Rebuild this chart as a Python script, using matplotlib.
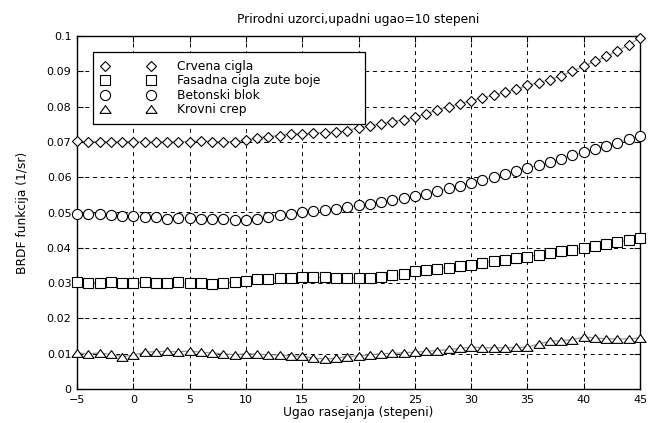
import numpy as np
import matplotlib
matplotlib.use("Agg")
import matplotlib.pyplot as plt

# scattering angle, degrees
ugao = list(range(-5, 46))

crvena_cigla = [
    0.0702, 0.0700, 0.0701, 0.0700, 0.0700, 0.0701, 0.0699, 0.0700, 0.0700, 0.0699,
    0.0701, 0.0702, 0.0701, 0.0700, 0.0701, 0.0704, 0.0712, 0.0715, 0.0718, 0.0722,
    0.0723, 0.0724, 0.0726, 0.0728, 0.0732, 0.0740, 0.0745, 0.0752, 0.0757, 0.0763,
    0.0770, 0.0780, 0.0790, 0.0800, 0.0808, 0.0817, 0.0825, 0.0832, 0.0840, 0.0850,
    0.0860, 0.0868, 0.0876, 0.0888, 0.0900, 0.0915, 0.0928, 0.0942, 0.0958, 0.0975,
    0.0995,
]
fasadna_cigla = [
    0.0302, 0.0300, 0.0301, 0.0302, 0.0300, 0.0301, 0.0302, 0.0301, 0.0300, 0.0302,
    0.0299, 0.0301, 0.0297, 0.0300, 0.0303, 0.0307, 0.0311, 0.0313, 0.0314, 0.0315,
    0.0316, 0.0316, 0.0316, 0.0315, 0.0315, 0.0314, 0.0314, 0.0317, 0.0322, 0.0326,
    0.0333, 0.0337, 0.0341, 0.0344, 0.0349, 0.0352, 0.0357, 0.0362, 0.0365, 0.0370,
    0.0375, 0.0380, 0.0385, 0.0390, 0.0395, 0.0400, 0.0405, 0.0410, 0.0416, 0.0421,
    0.0428,
]
betonski_blok = [
    0.0497, 0.0496, 0.0497, 0.0494, 0.0491, 0.0490, 0.0488, 0.0486, 0.0482, 0.0484,
    0.0485, 0.0483, 0.0482, 0.0481, 0.0480, 0.0480, 0.0483, 0.0488, 0.0493, 0.0497,
    0.0500, 0.0503, 0.0507, 0.0511, 0.0515, 0.0520, 0.0524, 0.0530, 0.0535, 0.0540,
    0.0546, 0.0553, 0.0560, 0.0568, 0.0576, 0.0584, 0.0592, 0.0600, 0.0608, 0.0617,
    0.0626, 0.0634, 0.0642, 0.0652, 0.0662, 0.0671, 0.0680, 0.0689, 0.0698, 0.0707,
    0.0716,
]
krovni_crep = [
    0.0102, 0.0100, 0.0102, 0.0098, 0.0092, 0.0096, 0.0104, 0.0106, 0.0107, 0.0105,
    0.0108, 0.0104, 0.0102, 0.0100, 0.0097, 0.0100, 0.0099, 0.0097, 0.0096, 0.0094,
    0.0093, 0.0087, 0.0085, 0.0087, 0.0092, 0.0094, 0.0097, 0.0100, 0.0101, 0.0103,
    0.0104, 0.0107, 0.0109, 0.0112, 0.0115, 0.0119, 0.0117, 0.0117, 0.0117, 0.0118,
    0.0118, 0.0128, 0.0135, 0.0137, 0.0140, 0.0147, 0.0145, 0.0142, 0.0142, 0.0142,
    0.0145,
]

nazivi = ["Crvena cigla", "Fasadna cigla zute boje", "Betonski blok", "Krovni crep"]
# slightly flattened triangle like the original print
trougao = [(-1, -0.7), (1, -0.7), (0, 0.7), (-1, -0.7)]
markeri = ["D", "s", "o", trougao]
velicine = [5.5, 7, 7.3, 8]

x_ticks = [-5, 0, 5, 10, 15, 20, 25, 30, 35, 40, 45]
y_ticks = [0, 0.01, 0.02, 0.03, 0.04, 0.05, 0.06, 0.07, 0.08, 0.09, 0.1]
y_tick_labels = ["0", "0.01", "0.02", "0.03", "0.04", "0.05", "0.06",
                 "0.07", "0.08", "0.09", "0.1"]

plt.rcParams["font.family"] = ["DejaVu Sans"]

fig = plt.figure(figsize=(6.56, 4.23), dpi=100)
ax = fig.add_axes([77 / 656, 1 - 389 / 423, (640 - 77) / 656, (389 - 36) / 423])

serije = [crvena_cigla, fasadna_cigla, betonski_blok, krovni_crep]
handles = []
for y, m, ms, name in zip(serije, markeri, velicine, nazivi):
    ax.plot(ugao, y, color="0.6", lw=0.9, zorder=2)
    h, = ax.plot(ugao, y, ls="none", marker=m, ms=ms, mfc="white",
                 mec="black", mew=0.8, label=name, zorder=3, clip_on=False)
    handles.append(h)

ax.set_xlim(-5, 45)
ax.set_ylim(0, 0.1)
ax.set_xticks(x_ticks)
ax.set_yticks(y_ticks)
ax.set_yticklabels(y_tick_labels)
ax.grid(True, color="black", lw=0.7, dashes=(4, 4))
ax.tick_params(direction="in", length=4, width=0.8, top=True, right=True,
               labelsize=8, pad=4)
for s in ax.spines.values():
    s.set_linewidth(1.0)

ax.set_title("Prirodni uzorci,upadni ugao=10 stepeni", fontsize=8.8, pad=9)
ax.set_xlabel("Ugao rasejanja (stepeni)", fontsize=8.8, labelpad=1)
ax.set_ylabel("BRDF funkcija (1/sr)", fontsize=8.8, labelpad=13)

# legend box fixed to the reference position
lx0, lx1, ly0, ly1 = 93, 365, 52, 129
leg = ax.legend(handles=handles, loc="upper left", numpoints=2, mode="expand",
                bbox_to_anchor=(lx0 / 656, 1 - ly1 / 423, (lx1 - lx0) / 656,
                                (ly1 - ly0) / 423),
                bbox_transform=fig.transFigure, borderaxespad=0,
                fontsize=8.8, handlelength=4.4, handletextpad=1.8,
                labelspacing=0.12, borderpad=0.65, fancybox=False,
                framealpha=1, edgecolor="black")
leg.get_frame().set_linewidth(0.9)

fig.savefig("out.png", dpi=100)
